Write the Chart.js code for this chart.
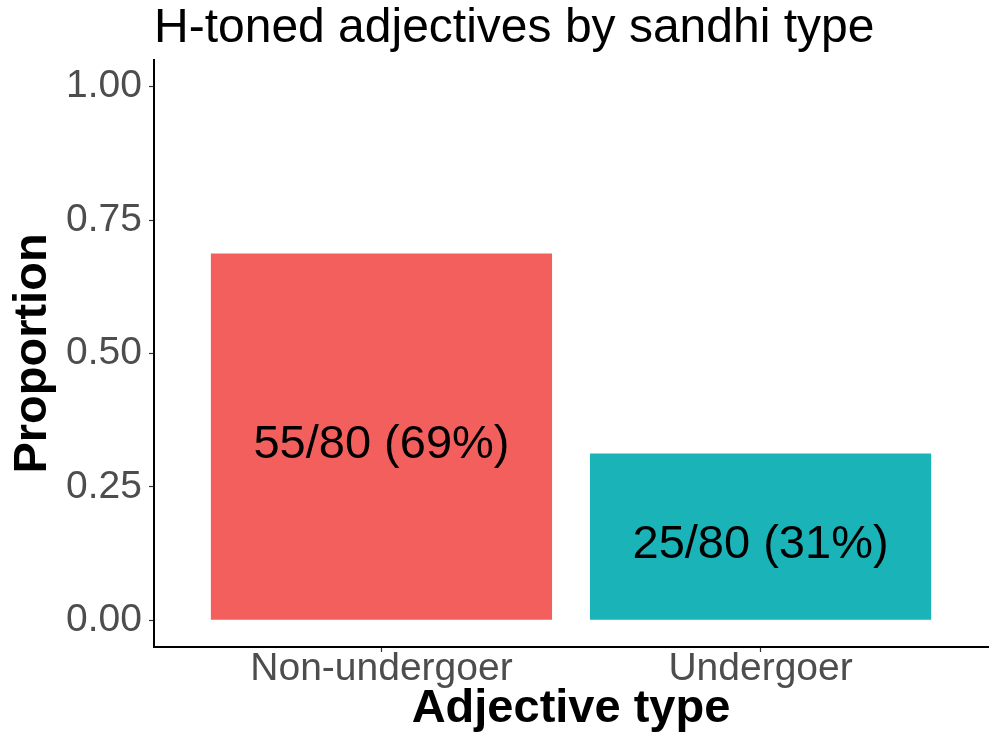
<!DOCTYPE html>
<html>
<head>
<meta charset="utf-8">
<script src="https://cdn.jsdelivr.net/npm/chart.js@4/dist/chart.umd.min.js"></script>
<style>
  html, body { margin: 0; padding: 0; background: #fff; }
  #wrap { width: 993px; height: 742px; position: relative; }
</style>
</head>
<body>
<div id="wrap"><canvas id="grafico"></canvas></div>
<script>
// dados
const categorias = ['Non-undergoer', 'Undergoer'];
const contagens = [55, 25];
const totais = [80, 80];
const proporcoes = [0.6875, 0.3125];
const percentuais = [69, 31];
const ticksY = [0, 0.25, 0.5, 0.75, 1];
const cores = ['#F25F5C', '#1AB3B8'];

const FONTE = '"Liberation Sans", Arial, Helvetica, sans-serif';

// titulo alinhado com a borda esquerda do painel
const tituloPlugin = {
  id: 'tituloPlugin',
  afterDraw(chart) {
    const ctx = chart.ctx;
    ctx.save();
    ctx.font = '48px ' + FONTE;
    ctx.fillStyle = '#000';
    ctx.textAlign = 'left';
    ctx.textBaseline = 'alphabetic';
    ctx.fillText('H-toned adjectives by sandhi type', chart.chartArea.left, 42);
    ctx.restore();
  }
};

// rotulos "n/total (x%)" no meio de cada barra
const rotulosPlugin = {
  id: 'rotulosPlugin',
  afterDatasetsDraw(chart) {
    const ctx = chart.ctx;
    const y = chart.scales.y;
    const meta = chart.getDatasetMeta(0);
    ctx.save();
    ctx.font = '47px ' + FONTE;
    ctx.fillStyle = '#000';
    ctx.textAlign = 'center';
    ctx.textBaseline = 'middle';
    meta.data.forEach((bar, i) => {
      const texto = contagens[i] + '/' + totais[i] + ' (' + percentuais[i] + '%)';
      ctx.fillText(texto, bar.x, y.getPixelForValue(proporcoes[i] / 2) + 8);
    });
    ctx.restore();
  }
};

function gerarGrafico() {
  const ctx = document.getElementById('grafico');
  const pontos = proporcoes.map((p, i) => ({ x: i + 1, y: p }));

  new Chart(ctx, {
    type: 'bar',
    data: {
      datasets: [{
        data: pontos,
        backgroundColor: cores,
        borderWidth: 0,
        barPercentage: 0.9,
        categoryPercentage: 1
      }]
    },
    options: {
      responsive: true,
      maintainAspectRatio: false,
      animation: false,
      layout: { padding: { top: 60, right: 5, left: 0, bottom: 0 } },
      plugins: {
        legend: { display: false },
        tooltip: { enabled: false },
        title: { display: false }
      },
      scales: {
        x: {
          type: 'linear',
          offset: false,
          min: 0.4,
          max: 2.6,
          afterBuildTicks: s => { s.ticks = categorias.map((c, i) => ({ value: i + 1 })); },
          afterFit: s => { s.height = 95; },
          grid: { display: true, offset: false, drawOnChartArea: false, tickLength: 5, tickColor: '#333333', tickWidth: 1.2 },
          border: { display: true, color: '#000', width: 2 },
          ticks: {
            autoSkip: false,
            maxRotation: 0,
            padding: -2,
            color: '#4D4D4D',
            font: { family: FONTE, size: 39, lineHeight: 1 },
            callback: v => categorias[v - 1]
          },
          title: {
            display: true,
            text: 'Adjective type',
            color: '#000',
            padding: { top: 0, bottom: 5 },
            font: { family: FONTE, size: 47, weight: 'bold', lineHeight: 1.2 }
          }
        },
        y: {
          min: -0.05,
          max: 1.05,
          afterBuildTicks: s => { s.ticks = ticksY.map(v => ({ value: v })); },
          afterFit: s => { s.width = 154; },
          grid: { display: true, drawOnChartArea: false, tickLength: 5, tickColor: '#333333', tickWidth: 1.2 },
          border: { display: true, color: '#000', width: 2 },
          ticks: {
            padding: 7,
            color: '#4D4D4D',
            font: { family: FONTE, size: 39 },
            callback: v => v.toFixed(2)
          },
          title: {
            display: true,
            text: 'Proportion',
            color: '#000',
            padding: { top: 5, bottom: 0 },
            font: { family: FONTE, size: 47, weight: 'bold', lineHeight: 1.2 }
          }
        }
      }
    },
    plugins: [tituloPlugin, rotulosPlugin]
  });
}

gerarGrafico();
</script>
</body>
</html>
